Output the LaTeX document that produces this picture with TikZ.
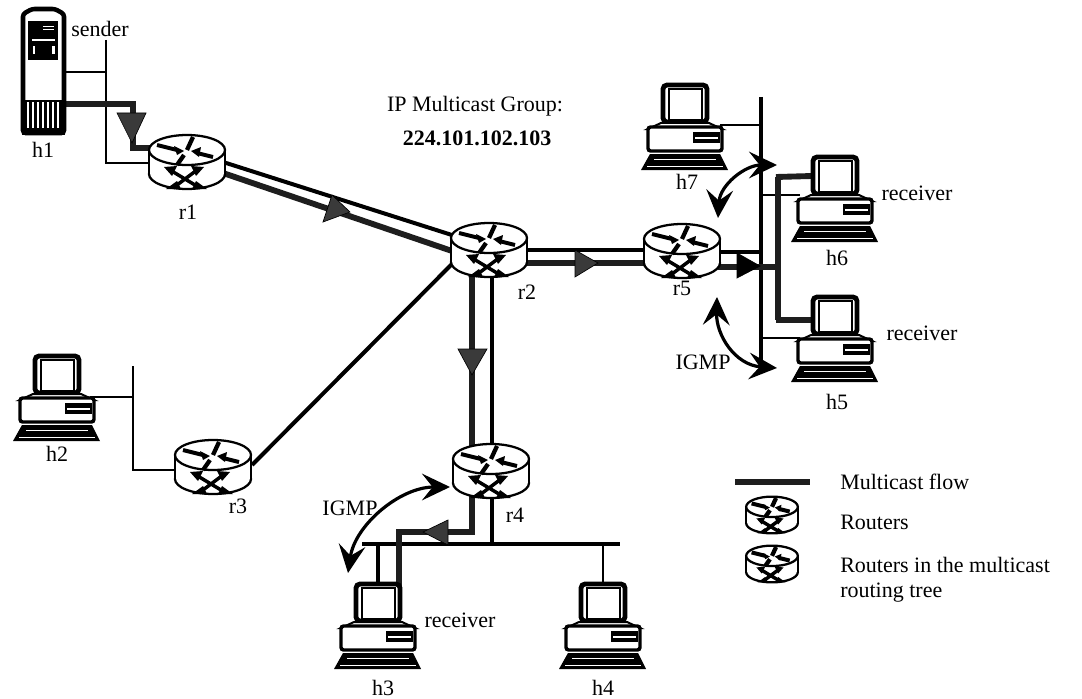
\documentclass[tikz,border=0pt]{standalone}
\usepackage{fontspec}
\setmainfont{Liberation Serif}
\usetikzlibrary{calc,arrows.meta}
\definecolor{flowc}{HTML}{1E1E1E}
\definecolor{headc}{HTML}{3A3A3A}
\tikzset{
  x=0.75pt,y=-0.75pt,
  anchorbox/.style={inner sep=0pt,minimum width=57pt,minimum height=40pt},
  pcbox/.style={inner sep=0pt,minimum width=60pt,minimum height=66pt},
  txt/.style={inner sep=0pt,font=\fontsize{16.5}{19}\selectfont,text=black},
  link/.style={line width=3pt,draw=black,line join=miter},
  thinlink/.style={line width=2.2pt,draw=black},
  flow/.style={line width=4.4pt,draw=flowc,line join=miter},
  flowhead/.style={fill=headc,draw=black,line width=0.5pt},
  igmp/.style={line width=2.4pt,draw=black,{Stealth[length=21pt,width=20pt,inset=8pt]}-{Stealth[length=21pt,width=20pt,inset=8pt]}},
  router/.pic={
    \fill[white] (-38,-12) rectangle (38,12);
    \draw[line width=1.7pt,fill=white] (0,12) ellipse [x radius=38,y radius=15];
    \fill[white] (-37,-12) rectangle (37,12);
    \draw[line width=1.7pt] (-38,-12) -- (-38,12) (38,-12) -- (38,12);
    \draw[line width=1.7pt,fill=white] (0,-12) ellipse [x radius=38,y radius=15];
    \draw[line width=3pt] (-30,-17) -- (-10,-12);
    \fill (-10,-7) -- (-3,-11) -- (-13,-16) -- cycle;
    \draw[line width=3pt] (26,-5) -- (10,-9);
    \fill (4,-11) -- (14,-15) -- (12,-5) -- cycle;
    \draw[line width=3.2pt] (6,-25) -- (0,-12) (-3,-7) -- (-10,3);
    \draw[line width=2.6pt] (-17,8) -- (13,26) (10,8) -- (-14,26);
    \fill (-23,5) -- (-10,4) -- (-15,14) -- cycle;
    \fill (17,5) -- (4,4) -- (9,14) -- cycle;
    \fill (-21,27) -- (-10,19) -- (-6,27) -- cycle;
    \fill (20,27) -- (9,19) -- (5,27) -- cycle;
  },
  pc/.pic={
    \draw[line width=3.6pt,rounded corners=3pt,fill=white] (-22,2) rectangle (22,39);
    \draw[line width=0.9pt] (-16,6) rectangle (17,37);
    \draw[line width=1.5pt,fill=white] (-24,40) -- (-37,46) -- (37,46) -- (24,40) -- cycle;
    \draw[line width=2.6pt,rounded corners=2pt,fill=white] (-37,44) rectangle (37,68);
    \fill (8,49) rectangle (35,60);
    \fill[white] (10,54) rectangle (33,55.5);
    \fill (-35,71) -- (35,71) -- (43,87) -- (-44,87) -- cycle;
    \fill[white] (-31,76) rectangle (31,77.2);
    \fill[white] (-38,83) rectangle (38,84);
  }
}
\begin{document}
\begin{tikzpicture}
\useasboundingbox (0,0) rectangle (1082,699);
% anchor nodes
\node[anchorbox] (r1) at (187,162) {};
\node[anchorbox] (r2) at (489,250) {};
\node[anchorbox] (r3) at (213,467) {};
\node[anchorbox] (r4) at (491,471) {};
\node[anchorbox] (r5) at (682,251) {};
\node[pcbox] (h2) at (57,397) {};
\node[pcbox] (h3) at (378,625) {};
\node[pcbox] (h4) at (603,625) {};
\node[pcbox] (h5) at (835,338) {};
\node[pcbox] (h6) at (835,198) {};
\node[pcbox] (h7) at (685,126) {};
\node[inner sep=0pt,minimum width=32pt,minimum height=96pt] (h1) at (43,71) {};
% buses
\coordinate (busA) at (106,40);
\coordinate (busB) at (133,366);
\coordinate (busC) at (761,97);
\coordinate (busD) at (362,544);
% links
\draw[thinlink] (busA) -- (106,163) -- ($(r1)+(-37,1)$);
\draw[thinlink] ($(h1)+(20,1)$) -- ($(busA)+(0,32)$);
\draw[thinlink] (busB) -- (133,470) -- ($(r3)+(-38,3)$);
\draw[thinlink] ($(h2)+(33,0)$) -- ($(busB)+(0,31)$);
\draw[link] ($(r1)+(36,0)$) -- ($(r2)+(-34,-14)$);
\draw[link] ($(r3)+(39,-2)$) -- ($(r2)+(-36,13)$);
\draw[link] ($(r2)+(36,0)$) -- ($(r5)+(-36,-1)$);
\draw[link] ($(r2)+(3,20)$) -- ($(r4)+(1,-20)$);
\draw[link] ($(r5)+(36,1)$) -- ($(busC)+(0,155)$);
\draw[link] (busC) -- (761,368);
\draw[thinlink] ($(h7)+(35,-1)$) -- ($(busC)+(0,28)$);
\draw[thinlink] ($(busC)+(0,98)$) -- ($(h6)+(-35,-3)$);
\draw[thinlink] ($(busC)+(0,241)$) -- ($(h5)+(-35,0)$);
\draw[link] (busD) -- (620,544);
\draw[link] ($(r4)+(1,20)$) -- ($(busD)+(130,0)$);
\draw[link] ($(busD)+(16,0)$) -- ($(h3)+(0,-43)$);
\draw[thinlink] ($(busD)+(241,0)$) -- ($(h4)+(0,-43)$);
% flows
\draw[flow] ($(h1)+(22,33)$) -- (133,104) -- (133,148) -- ($(r1)+(-35,-14)$);
\draw[flow] ($(r1)+(36,11)$) -- ($(r2)+(-34,2)$);
\draw[flow] ($(r2)+(36,13)$) -- ($(r5)+(-36,12)$);
\draw[flow] ($(r2)+(-17,20)$) -- ($(r4)+(-19,-20)$);
\draw[flow] ($(r5)+(36,16)$) -- (778,267);
\draw[flow] (778,177) -- (778,320);
\draw[flow] (776,177) -- ($(h6)+(-23,-22)$);
\draw[flow] (776,320) -- ($(h5)+(-23,-18)$);
\draw[flow] ($(r4)+(-19,20)$) -- (472,532) -- (399,532) -- ($(h3)+(21,-38)$);
% arrowheads
\draw[flowhead] (117,113) -- (146,113) -- (132,143) -- cycle;
\draw[flowhead] (332,195) -- (350,212) -- (323,222) -- cycle;
\draw[flowhead] (575,250) -- (598,263) -- (575,277) -- cycle;
\draw[flowhead] (458,349) -- (487,349) -- (472,375) -- cycle;
\draw[flowhead,fill=black] (737,253) -- (760,266) -- (737,278) -- cycle;
\draw[flowhead] (448,520) -- (423,532) -- (448,545) -- cycle;
% routers
\foreach \n in {r1,r2,r3,r4,r5} \pic at (\n) {router};
% legend
\node[inner sep=0pt,minimum width=39pt,minimum height=26pt] (lr1) at (772,515) {};
\node[inner sep=0pt,minimum width=39pt,minimum height=26pt] (lr2) at (772,564) {};
\pic[scale=0.68] at (lr1) {router};
\pic[scale=0.68] at (lr2) {router};
\coordinate (lfa) at (735,482);
\coordinate (lfb) at (810,482);
\draw[flow] (lfa) -- (lfb);
% computers
\foreach \n/\x/\y in {h2/57/354,h3/378/582,h4/603/582,h5/835/295,h6/835/155,h7/685/83} \pic at (\x,\y) {pc};
% tower
\draw[line width=3.4pt,fill=white,rounded corners=2pt] (23,14) -- (32,9) -- (55,9) -- (64,14) -- (64,133) -- (23,133) -- cycle;
\fill (28,21) rectangle (58,60);
\fill[white] (32,39) rectangle (55,41);
\fill[white] (33,46) rectangle (35,54);
\fill[white] (52,46) rectangle (55,54);
\fill[white] (43,26) rectangle (54,27);
\fill[white] (43,29) rectangle (54,30);
\fill (22,100) rectangle (65,135);
\foreach \x in {27,32,37,42,47,52,57} \fill[white] (\x,102) rectangle (\x+1.8,128);
% arcs
\coordinate (ia) at (777,165);
\coordinate (ib) at (718,218);
\coordinate (ic) at (717,297);
\coordinate (id) at (777,368);
\coordinate (ie) at (450,487);
\coordinate (ig) at (348,573);
\draw[igmp] (ia) .. controls (745,165) and (720,185) .. (ib);
\draw[igmp] (ic) .. controls (716,335) and (735,365) .. (id);
\draw[igmp] (ie) .. controls (400,487) and (355,525) .. (ig);
% labels
\node[txt] (tsender) at (100,29) {sender};
\node[txt] (th1) at (43,150) {h1};
\node[txt] (tr1) at (188,212) {r1};
\node[txt] (tr2) at (527,292) {r2};
\node[txt] (tr3) at (238,506) {r3};
\node[txt] (tr4) at (515,515) {r4};
\node[txt] (tr5) at (682,288) {r5};
\node[txt] (th2) at (57,454) {h2};
\node[txt] (th3) at (383,688) {h3};
\node[txt] (th4) at (603,688) {h4};
\node[txt] (th5) at (837,402) {h5};
\node[txt] (th6) at (837,258) {h6};
\node[txt] (th7) at (687,182) {h7};
\node[txt] (rc3) at (460,620) {receiver};
\node[txt] (rc6) at (917,193) {receiver};
\node[txt] (rc5) at (922,333) {receiver};
\node[txt] (ig1) at (350,508) {IGMP};
\node[txt] (ig2) at (703,362) {IGMP};
\node[txt] (gp1) at (475,106) {IP Multicast Group:};
\node[txt,font=\fontsize{16.5}{19}\selectfont\bfseries] (gp2) at (477,138) {224.101.102.103};
\node[txt,anchor=west] (l1) at (840,482) {Multicast flow};
\node[txt,anchor=west] (l2) at (840,522) {Routers};
\node[txt,anchor=west] (l3) at (840,565) {Routers in the multicast};
\node[txt,anchor=west] (l4) at (840,593) {routing tree};
\end{tikzpicture}
\end{document}
